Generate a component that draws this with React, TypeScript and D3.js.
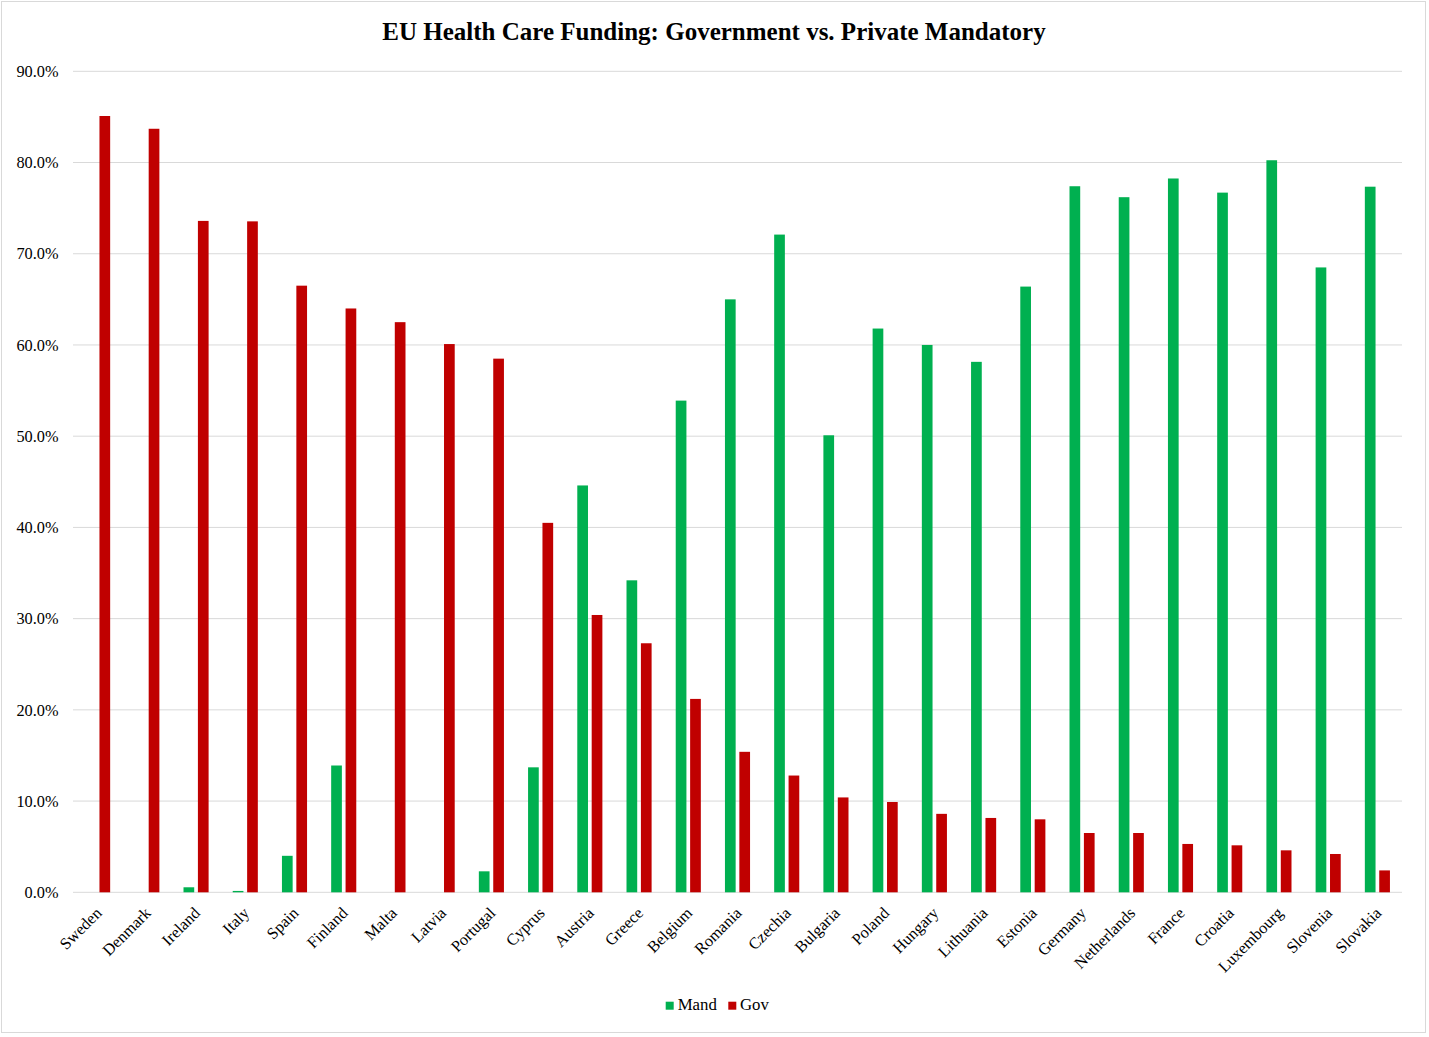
import React, { useEffect } from "react";
import * as d3 from "d3";

const countries = ["Sweden","Denmark","Ireland","Italy","Spain","Finland","Malta","Latvia","Portugal","Cyprus","Austria","Greece","Belgium","Romania","Czechia","Bulgaria","Poland","Hungary","Lithuania","Estonia","Germany","Netherlands","France","Croatia","Luxembourg","Slovenia","Slovakia"];
const mand = [0, 0, 0.55, 0.15, 4.0, 13.9, 0, 0, 2.3, 13.7, 44.6, 34.2, 53.9, 65.0, 72.1, 50.1, 61.8, 60.0, 58.15, 66.4, 77.4, 76.2, 78.25, 76.7, 80.25, 68.5, 77.35];
const gov = [85.1, 83.7, 73.6, 73.55, 66.5, 64.0, 62.5, 60.1, 58.5, 40.5, 30.4, 27.3, 21.2, 15.4, 12.8, 10.4, 9.9, 8.6, 8.15, 8.0, 6.5, 6.5, 5.3, 5.15, 4.6, 4.2, 2.4];
const seriesNames = ["Mand", "Gov"];
const seriesColors = ["#00B050", "#C00000"];
const yTicks = [0, 10, 20, 30, 40, 50, 60, 70, 80, 90];
const title = "EU Health Care Funding: Government vs. Private Mandatory";

const W = 1429, H = 1037;
const font = "'Liberation Serif', 'Times New Roman', serif";

export default function App() {
  useEffect(() => { document.body.style.margin = "0"; }, []);
  const x = d3.scaleBand<string>().domain(countries).range([73, 1402]).paddingInner(0).paddingOuter(0);
  const xs = d3.scaleBand<string>().domain(seriesNames).range([-12.55, 12.55]).paddingInner(0.257).paddingOuter(0);
  const y = d3.scaleLinear().domain([0, 90]).range([892.3, 71.3]);
  const data = [mand, gov];
  return (
    <svg width={W} height={H} style={{ display: "block", background: "#fff" }} fontFamily={font}>
      <rect x={1.5} y={1.5} width={1424} height={1031} fill="#fff" stroke="#d9d9d9" strokeWidth={1} />
      <text x={714} y={40} textAnchor="middle" fontSize={25} fontWeight="bold">{title}</text>
      {yTicks.map(t => (
        <g key={t}>
          <line x1={73} x2={1402} y1={y(t)} y2={y(t)} stroke="#d9d9d9" strokeWidth={1} />
          <text x={58.5} y={y(t)} dy="0.35em" textAnchor="end" fontSize={16.3}>{t.toFixed(1) + "%"}</text>
        </g>
      ))}
      {data.map((vals, si) => (
        <g key={si} fill={seriesColors[si]}>
          {countries.map((c, i) => {
            const cx = (x(c) as number) + x.bandwidth() / 2 + (xs(seriesNames[si]) as number);
            const top = y(vals[i]);
            return vals[i] > 0 ? (
              <rect key={c} x={cx} y={top} width={xs.bandwidth()} height={y(0) - top} />
            ) : null;
          })}
        </g>
      ))}
      {countries.map(c => {
        const cx = (x(c) as number) + x.bandwidth() / 2 + 1;
        return (
          <text key={c} x={cx} y={910} textAnchor="end" fontSize={16.3}
            transform={`rotate(-45 ${cx} 910)`} dy="0.35em">{c}</text>
        );
      })}
      <g>
        <rect x={665.7} y={1001.7} width={8} height={8} fill={seriesColors[0]} />
        <text x={677.7} y={1010} fontSize={16.8}>{seriesNames[0]}</text>
        <rect x={728.3} y={1001.7} width={8} height={8} fill={seriesColors[1]} />
        <text x={740} y={1010} fontSize={16.8}>{seriesNames[1]}</text>
      </g>
    </svg>
  );
}
